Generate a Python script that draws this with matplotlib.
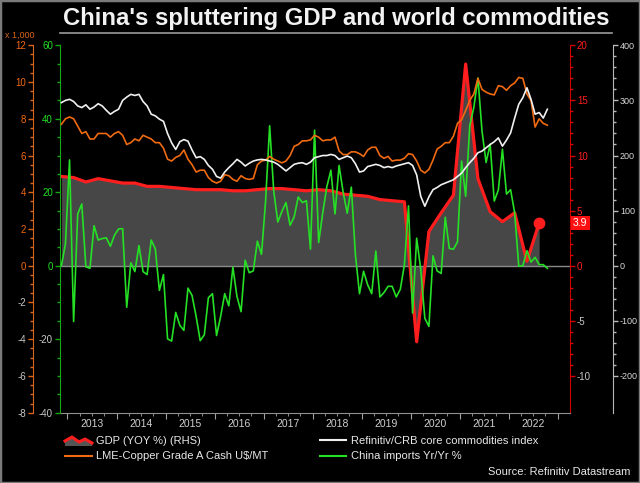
import numpy as np
import matplotlib
matplotlib.use("Agg")
import matplotlib.pyplot as plt
import matplotlib.transforms as mtransforms
from matplotlib.lines import Line2D
from matplotlib.patches import Polygon, Rectangle

plt.rcParams["axes.unicode_minus"] = False
plt.rcParams["font.family"] = ["Liberation Sans", "DejaVu Sans"]

# monthly data, Nov 2012 .. Oct 2022
imports_yoy = [0.0, 6.0,
               28.8, -15.2, 14.1, 16.8, -0.3, -0.7, 10.9, 7.0, 7.4, 7.6, 5.3, 8.3,
               10.0, 10.1, -11.3, 0.8, -1.6, 5.5, -1.6, -2.4, 7.0, 4.6, -6.7, -2.4,
               -19.9, -20.5, -12.7, -16.2, -17.6, -6.1, -8.1, -13.8, -20.4, -18.8, -8.7, -7.6,
               -19.0, -13.8, -7.6, -10.9, -0.4, -8.4, -12.5, 1.5, -1.9, -1.4, 6.7, 3.1,
               17.5, 38.1, 20.3, 11.9, 14.8, 17.2, 11.0, 13.3, 18.7, 17.2, 17.7, 4.5,
               36.9, 6.3, 14.4, 21.5, 26.0, 14.1, 27.3, 20.0, 14.3, 21.4, 3.0, -7.6,
               -1.5, -5.2, -7.6, 4.0, -8.5, -7.3, -5.6, -5.6, -8.5, -6.4, 0.3, 16.3,
               -12.9, 7.5, -1.0, -14.3, -16.5, 2.7, -1.4, -2.1, 13.2, 4.7, 4.5, 6.5,
               28.5, 18.9, 38.1, 43.1, 51.1, 36.7, 28.1, 33.1, 17.6, 20.6, 31.7, 19.5,
               20.7, 14.4, -0.1, 0.0, 4.1, 1.0, 2.3, 0.3, 0.3, -0.7]

# LME copper, US$/t in thousands
copper = [7.7, 8.0,
          8.1, 8.0, 7.6, 7.2, 7.3, 6.9, 6.9, 7.2, 7.2, 7.2, 7.0, 7.2,
          7.3, 7.1, 6.6, 6.7, 6.9, 6.8, 7.1, 7.0, 6.9, 6.7, 6.7, 6.4,
          5.8, 5.7, 5.9, 6.0, 6.3, 5.8, 5.5, 5.1, 5.2, 5.2, 4.8, 4.6,
          4.5, 4.6, 4.95, 4.9, 4.7, 4.6, 4.9, 4.75, 4.7, 4.75, 5.5, 5.7,
          5.75, 5.95, 5.8, 5.7, 5.6, 5.7, 6.0, 6.5, 6.6, 6.8, 6.8, 6.85,
          7.1, 7.0, 6.8, 6.85, 6.85, 7.0, 6.25, 6.05, 6.05, 6.2, 6.2, 6.1,
          5.95, 6.3, 6.45, 6.45, 6.0, 5.85, 5.95, 5.7, 5.75, 5.75, 5.85, 6.1,
          6.05, 5.7, 5.2, 5.05, 5.25, 5.75, 6.35, 6.5, 6.7, 6.7, 7.05, 7.75,
          7.95, 8.45, 9.0, 9.35, 10.2, 9.6, 9.45, 9.35, 9.3, 9.8, 9.75, 9.55,
          9.8, 9.95, 10.25, 10.2, 9.35, 9.0, 7.55, 8.0, 7.75, 7.65]

# Refinitiv/CRB core commodities index
crb = [296, 300,
       302, 298, 290, 287, 292, 284, 288, 294, 290, 282, 275, 280,
       284, 300, 306, 311, 309, 311, 298, 290, 275, 272, 266, 262,
       240, 223, 211, 225, 229, 226, 210, 196, 198, 193, 182, 175,
       162, 159, 170, 178, 185, 193, 188, 181, 186, 190, 192, 193,
       192, 190, 188, 184, 178, 172, 178, 184, 186, 187, 184, 188,
       196, 198, 200, 200, 202, 200, 193, 196, 199, 196, 185, 170,
       172, 180, 182, 184, 182, 178, 180, 178, 181, 183, 185, 187,
       182, 165, 126, 108, 125, 138, 142, 147, 150, 153, 156, 162,
       168, 178, 187, 195, 205, 208, 214, 220, 225, 232, 217, 228,
       241, 268, 293, 305, 323, 302, 275, 278, 268, 284]

# China GDP YoY %, quarterly Q4 2012 .. Q3 2022
gdp = [8.1,
       8.0, 7.6, 7.9, 7.7,
       7.5, 7.5, 7.2, 7.2,
       7.1, 7.0, 6.9, 6.9,
       6.9, 6.8, 6.8, 6.9,
       7.0, 7.0, 6.9, 6.8,
       6.9, 6.8, 6.5, 6.4,
       6.3, 6.0, 5.9, 5.8,
       -6.9, 3.1, 4.8, 6.4,
       18.3, 7.9, 4.9, 4.0,
       4.8, 0.4, 3.9]

years = list(range(2013, 2023))

# decimal-year positions (mid month / mid quarter)
t_month = 2012 + (10 + np.arange(len(imports_yoy)) + 0.5) / 12
t_quarter = 2012 + (9 + 3 * np.arange(len(gdp)) + 1.5) / 12

BG = "black"
ORANGE = "#f06a10"
ORANGE_AX = "#d8641a"
GREEN = "#25e025"
GREEN_AX = "#14a814"
RED = "#ff1e1e"
RED_AX = "#d00000"
WHITE = "#f0f0f0"
GREY_AX = "#b8b8b8"
NEG = "#c8c8c8"
PT = 72 / 100  # points per pixel

fig = plt.figure(figsize=(6.4, 4.83), dpi=100, facecolor=BG)
fig.add_artist(Rectangle((0, 0), 1, 1, transform=fig.transFigure, fill=False,
                         edgecolor="#7a7a7a", lw=2.5))

rect = [60 / 640, 1 - 412.7 / 483, 510 / 640, (412.7 - 45.3) / 483]

# GDP axis (base, right spine)
ax_gdp = fig.add_axes(rect, facecolor=BG)
ax_gdp.fill_between(t_quarter, gdp, 0, color="#474747", lw=0, zorder=1)
ax_gdp.axhline(0, color="#8a8a8a", lw=1, zorder=2)
ax_gdp.plot(t_quarter, gdp, color=RED, lw=2.3, zorder=3, solid_joinstyle="round")
ax_gdp.plot(t_quarter[-1], gdp[-1], "o", color=RED, ms=7.5, zorder=4)
ax_gdp.set_ylim(-40 / 3, 20)

# imports axis (left spine)
ax_imp = ax_gdp.twinx()
ax_imp.yaxis.tick_left()
ax_imp.set_ylim(-40, 60)

# copper axis (outer left)
ax_cu = ax_gdp.twinx()
ax_cu.yaxis.tick_left()
ax_cu.spines["left"].set_position(("outward", 27 * PT))
ax_cu.set_ylim(-8, 12)

# CRB axis (outer right)
ax_crb = ax_gdp.twinx()
ax_crb.spines["right"].set_position(("outward", 43 * PT))
ax_crb.set_ylim(-800 / 3, 400)

ax_gdp.yaxis.tick_right()

ax_cu.plot(t_month, copper, color=ORANGE, lw=1.2, zorder=3)
ax_crb.plot(t_month, crb, color=WHITE, lw=1.2, zorder=3)
ax_imp.plot(t_month, imports_yoy, color=GREEN, lw=1.2, zorder=3)

for a in (ax_gdp, ax_imp, ax_cu, ax_crb):
    for s in a.spines.values():
        s.set_visible(False)
    a.set_xlim(2012.847, 2023.254)

ax_gdp.spines["right"].set_visible(True)
ax_gdp.spines["right"].set_color(RED_AX)
ax_gdp.spines["bottom"].set_visible(True)
ax_gdp.spines["bottom"].set_color("#909090")
ax_imp.spines["left"].set_visible(True)
ax_imp.spines["left"].set_color(GREEN_AX)
ax_cu.spines["left"].set_visible(True)
ax_cu.spines["left"].set_color(ORANGE_AX)
ax_crb.spines["right"].set_visible(True)
ax_crb.spines["right"].set_color(GREY_AX)


def style_y(a, ticks, minor_step, pos_color, neg_color, axcolor, size=7):
    lo, hi = a.get_ylim()
    a.set_yticks(ticks)
    a.set_yticklabels([str(v) for v in ticks])
    a.set_yticks(np.arange(ticks[0], hi + 0.001, minor_step), minor=True)
    a.tick_params(axis="y", which="major", length=3.5, width=1, color=axcolor,
                  labelsize=size, pad=1.5)
    a.tick_params(axis="y", which="minor", length=2, width=1, color=axcolor)
    for lbl, v in zip(a.get_yticklabels(), ticks):
        lbl.set_color(pos_color if v >= 0 else neg_color)
    a.set_ylim(lo, hi)


style_y(ax_gdp, [-10, -5, 0, 5, 10, 15, 20], 1, RED, NEG, RED_AX)
style_y(ax_imp, [-40, -20, 0, 20, 40, 60], 5, GREEN, NEG, GREEN_AX)
style_y(ax_cu, [-8, -6, -4, -2, 0, 2, 4, 6, 8, 10, 12], 0.5, ORANGE, NEG, ORANGE_AX)
style_y(ax_crb, [-200, -100, 0, 100, 200, 300, 400], 20, "#d8d8d8", "#d8d8d8",
        GREY_AX, size=6.5)

# x axis: year ticks at year start, quarters minor, labels mid-year
ax_gdp.set_xticks(years + [2023])
ax_gdp.set_xticklabels([])
ax_gdp.set_xticks([y + q / 4 for y in range(2012, 2024) for q in (1, 2, 3)
                   if 2012.85 < y + q / 4 < 2023.25], minor=True)
ax_gdp.tick_params(axis="x", which="major", length=4, color="#a0a0a0")
ax_gdp.tick_params(axis="x", which="minor", length=2, color="#a0a0a0")
xt = mtransforms.blended_transform_factory(ax_gdp.transData, ax_gdp.transAxes)
for y in years:
    ax_gdp.text(y + 0.5, -0.031, str(y), transform=xt, ha="center", va="center",
                fontsize=7.5, color="#d0d0d0")

# last GDP value tag
yt = mtransforms.blended_transform_factory(ax_gdp.transAxes, ax_gdp.transData)
ax_gdp.text(1.006, gdp[-1], "3.9", transform=yt, ha="left", va="center",
            fontsize=7.5, color="white",
            bbox=dict(boxstyle="square,pad=0.2", fc="#ff1010", ec="none"))

# title
fig.text(336 / 640, 1 - 19 / 483, "China's spluttering GDP and world commodities",
         ha="center", va="center", fontsize=17.2, weight="bold", color="#f2f2f2")
fig.add_artist(Line2D([60 / 640, 612 / 640], [1 - 33 / 483, 1 - 33 / 483],
                      transform=fig.transFigure, color="#9a9a9a", lw=1.2))
fig.text(5 / 640, 1 - 35 / 483, "x 1,000", fontsize=6.5, color=ORANGE_AX,
         ha="left", va="center")


# legend (drawn by hand in figure pixels)
def fx(px):
    return px / 640


def fy(py):
    return 1 - py / 483


top = [(65, 441), (72, 437), (79, 442), (85, 439), (92, 443)]
poly = [(fx(x), fy(y)) for x, y in top] + [(fx(92), fy(446)), (fx(65), fy(446))]
fig.add_artist(Polygon(poly, closed=True, transform=fig.transFigure,
                       fc="#555555", ec="none"))
fig.add_artist(Line2D([fx(x) for x, y in top], [fy(y) for x, y in top],
                      transform=fig.transFigure, color=RED, lw=2.2))
fig.add_artist(Line2D([fx(65), fx(92)], [fy(456), fy(456)],
                      transform=fig.transFigure, color=ORANGE, lw=1.5))
fig.add_artist(Line2D([fx(320), fx(346)], [fy(440), fy(440)],
                      transform=fig.transFigure, color=WHITE, lw=1.5))
fig.add_artist(Line2D([fx(320), fx(346)], [fy(456), fy(456)],
                      transform=fig.transFigure, color=GREEN, lw=1.5))
leg_kw = dict(fontsize=8, color="#e8e8e8", ha="left", va="center")
fig.text(fx(96), fy(441), "GDP (YOY %) (RHS)", **leg_kw)
fig.text(fx(96), fy(456), "LME-Copper Grade A Cash U$/MT", **leg_kw)
fig.text(fx(351), fy(441), "Refinitiv/CRB core commodities index", **leg_kw)
fig.text(fx(351), fy(456), "China imports Yr/Yr %", **leg_kw)
fig.text(fx(630), fy(472), "Source: Refinitiv Datastream", fontsize=8,
         color="#e8e8e8", ha="right", va="center")

fig.savefig("out.png", dpi=100, facecolor=BG)
